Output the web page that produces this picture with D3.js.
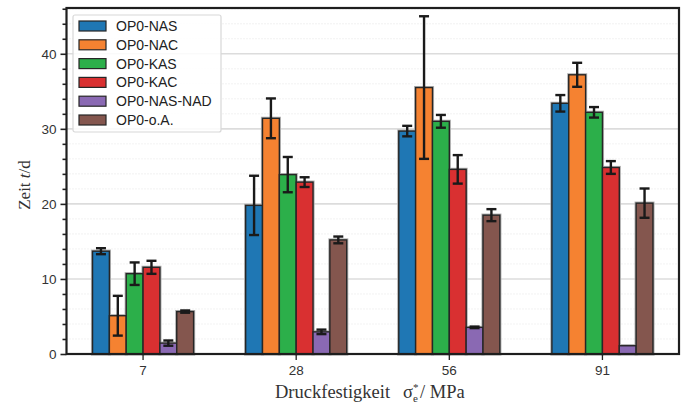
<!DOCTYPE html>
<html><head><meta charset="utf-8">
<script src="https://cdn.jsdelivr.net/npm/d3@7"></script>
<style>body{margin:0;background:#fff}svg{display:block}</style>
</head><body>
<svg id="c" width="686" height="406"></svg>
<script>
const categories = ["7", "28", "56", "91"];
const seriesNames = ["OP0-NAS", "OP0-NAC", "OP0-KAS", "OP0-KAC", "OP0-NAS-NAD", "OP0-o.A."];
const colors = ["#1f77b4", "#f58231", "#2caf4a", "#d93031", "#8a69b3", "#84564e"];
const values = [
  [13.7, 19.8, 29.7, 33.4],
  [5.1, 31.4, 35.5, 37.2],
  [10.7, 23.9, 31.0, 32.2],
  [11.55, 22.9, 24.6, 24.85],
  [1.45, 2.95, 3.55, 1.1],
  [5.65, 15.2, 18.5, 20.1]
];
const errors = [
  [0.4, 3.95, 0.7, 1.1],
  [2.65, 2.65, 9.5, 1.6],
  [1.5, 2.35, 0.85, 0.7],
  [0.87, 0.65, 1.9, 0.85],
  [0.35, 0.3, 0.1, 0.0],
  [0.15, 0.45, 0.8, 1.95]
];
const yMajorTicks = [0, 10, 20, 30, 40];
const yMinorTicks = [2,4,6,8,12,14,16,18,22,24,26,28,32,34,36,38,42,44,46];

const svg = d3.select("#c");
const L = 66.5, R = 679, T = 8, B = 354;
const x = d3.scaleBand().domain(categories).range([L, R]).paddingInner(0.34).paddingOuter(0.17);
const xs = d3.scaleBand().domain(d3.range(seriesNames.length)).range([0, x.bandwidth()]);
const y = d3.scaleLinear().domain([0, 46.1]).range([B, T]);

// grid
const g = svg.append("g");
g.selectAll(".gmin").data(yMinorTicks.filter(v => v < 46.1)).join("line")
  .attr("x1", L).attr("x2", R).attr("y1", d => y(d)).attr("y2", d => y(d))
  .attr("stroke", "#dedede").attr("stroke-width", 0.8).attr("stroke-dasharray", "1,2");
g.selectAll(".gmaj").data(yMajorTicks.slice(1)).join("line")
  .attr("x1", L).attr("x2", R).attr("y1", d => y(d)).attr("y2", d => y(d))
  .attr("stroke", "#dcdcdc").attr("stroke-width", 1.6);

// bars
const bars = [];
seriesNames.forEach((s, i) => categories.forEach((c, j) => bars.push({i, j, c, v: values[i][j], e: errors[i][j]})));
const bg = svg.append("g");
bg.selectAll("rect.halo").data(bars).join("rect")
  .attr("x", d => x(d.c) + xs(d.i)).attr("y", d => y(d.v))
  .attr("width", xs.bandwidth()).attr("height", d => B - y(d.v))
  .attr("fill", "none").attr("stroke", "#b0b0b0").attr("stroke-width", 3.2);
bg.selectAll("rect.bar").data(bars).join("rect")
  .attr("x", d => x(d.c) + xs(d.i)).attr("y", d => y(d.v))
  .attr("width", xs.bandwidth()).attr("height", d => B - y(d.v))
  .attr("fill", d => colors[d.i]).attr("stroke", "#262626").attr("stroke-width", 1.4);

// error bars
const eg = svg.append("g").attr("stroke", "#1a1a1a").attr("stroke-width", 2.4);
bars.filter(d => d.e > 0).forEach(d => {
  const cx = x(d.c) + xs(d.i) + xs.bandwidth() / 2;
  eg.append("line").attr("x1", cx).attr("x2", cx).attr("y1", y(d.v - d.e)).attr("y2", y(d.v + d.e));
  [d.v - d.e, d.v + d.e].forEach(v => eg.append("line").attr("x1", cx - 5).attr("x2", cx + 5).attr("y1", y(v)).attr("y2", y(v)));
});

// axes
const yAxis = svg.append("g").attr("transform", `translate(${L},0)`)
  .call(d3.axisLeft(y).tickValues(yMajorTicks).tickSize(6).tickPadding(4).tickFormat(d3.format("d")));
svg.append("g").attr("transform", `translate(${L},0)`)
  .call(d3.axisLeft(y).tickValues(yMinorTicks).tickSize(4).tickFormat(""))
  .call(a => a.select(".domain").remove())
  .selectAll("line").attr("stroke", "#222").attr("stroke-width", 1.6);
yAxis.select(".domain").remove();
yAxis.selectAll("line").attr("stroke", "#222").attr("stroke-width", 1.6);
yAxis.selectAll("text").attr("font-family", "Liberation Sans, Arial, sans-serif").attr("font-size", 13.5).attr("fill", "#333");

const xAxis = svg.append("g").attr("transform", `translate(0,${B})`)
  .call(d3.axisBottom(x).tickSize(6).tickPadding(5));
xAxis.select(".domain").remove();
xAxis.selectAll("line").attr("stroke", "#222").attr("stroke-width", 1.3);
xAxis.selectAll("text").attr("font-family", "Liberation Sans, Arial, sans-serif").attr("font-size", 13.5).attr("fill", "#333");

// frame
svg.append("rect").attr("x", L).attr("y", T).attr("width", R - L).attr("height", B - T)
  .attr("fill", "none").attr("stroke", "#1e1e1e").attr("stroke-width", 2.2);

// axis labels
const serif = "Liberation Serif, Times New Roman, serif";
const yl = svg.append("text").attr("transform", "translate(30,185) rotate(-90)")
  .attr("text-anchor", "middle").attr("font-family", serif).attr("font-size", 17).attr("fill", "#333");
yl.append("tspan").text("Zeit ");
yl.append("tspan").attr("font-style", "italic").text("t");
yl.append("tspan").text("/d");

const xl = svg.append("text").attr("x", 275).attr("y", 398).attr("text-anchor", "start")
  .attr("font-family", serif).attr("font-size", 18.5).attr("fill", "#333");
xl.append("tspan").text("Druckfestigkeit");
xl.append("tspan").attr("dx", 13).text("σ");
xl.append("tspan").attr("font-size", 11).attr("dy", -7).text("*");
xl.append("tspan").attr("font-size", 11).attr("dx", -5.5).attr("dy", 11).text("e");
xl.append("tspan").attr("dy", -4).attr("dx", 2).text("/ MPa");

// legend
const lg = svg.append("g").attr("transform", "translate(73,15)");
lg.append("rect").attr("width", 148).attr("height", 117).attr("rx", 2)
  .attr("fill", "#fff").attr("fill-opacity", 0.85).attr("stroke", "#d8d8d8").attr("stroke-width", 1.2);
seriesNames.forEach((s, i) => {
  const ly = 11 + i * 18.8;
  lg.append("rect").attr("x", 6).attr("y", ly - 5).attr("width", 27).attr("height", 10)
    .attr("fill", colors[i]).attr("stroke", "#262626").attr("stroke-width", 1.2);
  lg.append("text").attr("x", 43).attr("y", ly + 5).text(s)
    .attr("font-family", "Liberation Sans, Arial, sans-serif").attr("font-size", 14).attr("fill", "#222");
});
</script>
</body></html>
